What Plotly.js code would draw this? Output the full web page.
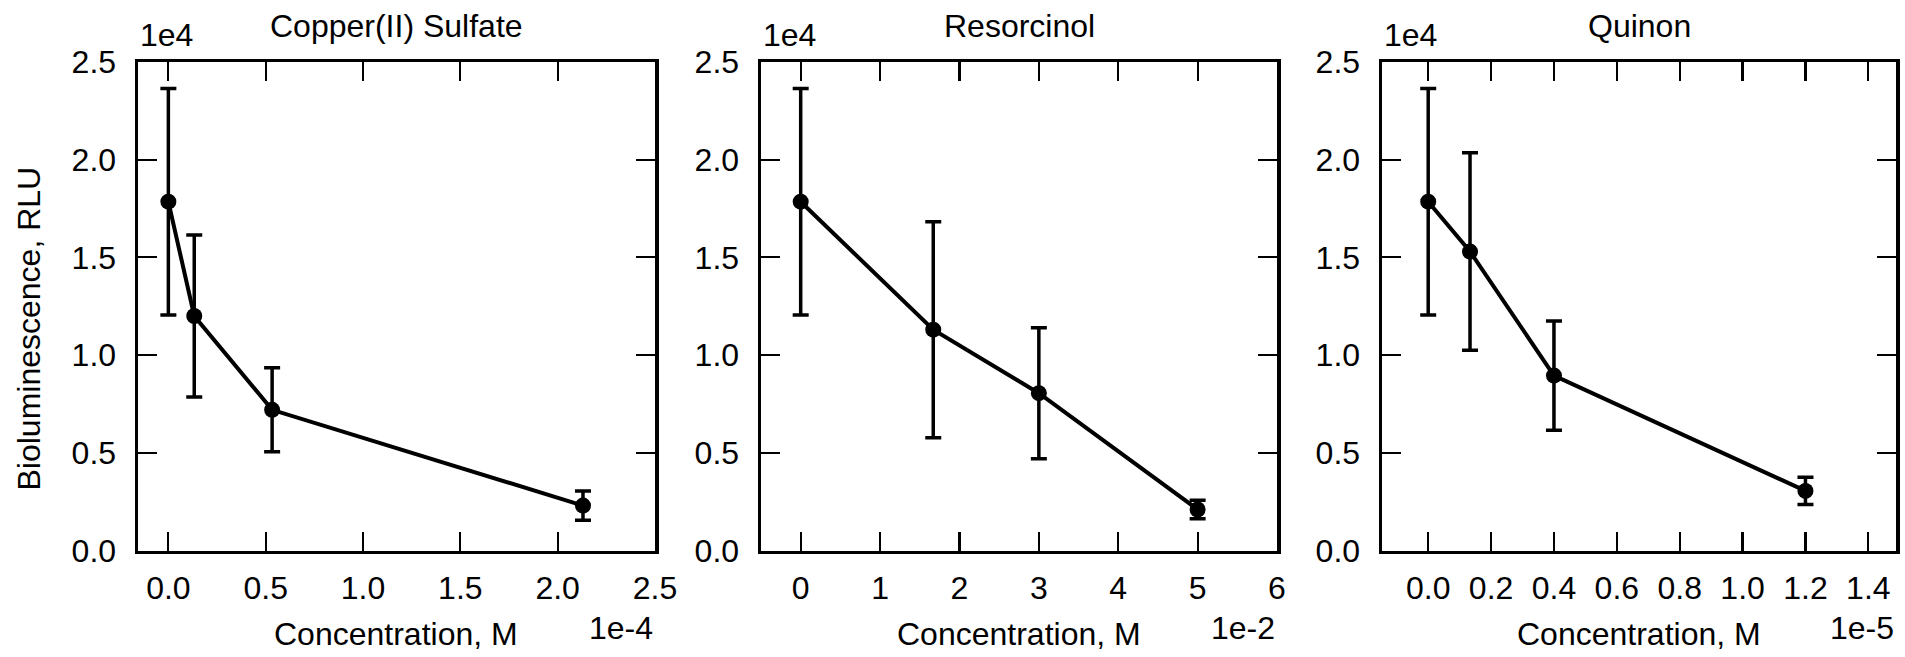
<!DOCTYPE html>
<html>
<head>
<meta charset="utf-8">
<script src="https://cdn.plot.ly/plotly-3.0.1.min.js"></script>
<style>html,body{margin:0;padding:0;background:#fff;}#chart{width:1905px;height:657px;}</style>
</head>
<body>
<div id="chart"></div>
<script>
// ---- data ----
const panelTitles = ["Copper(II) Sulfate", "Resorcinol", "Quinon"];

const copperX = [0, 1.33e-5, 5.33e-5, 2.13e-4];
const copperY = [17850, 12000, 7200, 2300];
const copperErr = [5800, 4150, 2150, 750];

const resorcinolX = [0, 0.0167, 0.03, 0.05];
const resorcinolY = [17850, 11300, 8050, 2100];
const resorcinolErr = [5800, 5530, 3350, 470];

const quinonX = [0, 1.33e-6, 4e-6, 1.2e-5];
const quinonY = [17850, 15300, 8950, 3050];
const quinonErr = [5800, 5050, 2800, 700];

const yTickVals = [0, 5000, 10000, 15000, 20000, 25000];
const yTickText = ["0.0", "0.5", "1.0", "1.5", "2.0", "2.5"];
const x1TickVals = [0, 0.5e-4, 1e-4, 1.5e-4, 2e-4, 2.5e-4];
const x1TickText = ["0.0", "0.5", "1.0", "1.5", "2.0", "2.5"];
const x2TickVals = [0, 0.01, 0.02, 0.03, 0.04, 0.05, 0.06];
const x2TickText = ["0", "1", "2", "3", "4", "5", "6"];
const x3TickVals = [0, 0.2e-5, 0.4e-5, 0.6e-5, 0.8e-5, 1.0e-5, 1.2e-5, 1.4e-5];
const x3TickText = ["0.0", "0.2", "0.4", "0.6", "0.8", "1.0", "1.2", "1.4"];
const xOffsets = ["1e-4", "1e-2", "1e-5"];
const yOffset = "1e4";
const xTitle = "Concentration, M";
const yTitle = "Bioluminescence, RLU";

// ---- layout ----
const W = 1905, H = 657;
const FONT = {family: "'Liberation Sans', Arial, Helvetica, sans-serif", size: 32, color: "#000"};
const panelPx = [[138, 655], [761, 1277], [1382, 1896]];
const yDom = [1 - 550.5 / H, 1 - 62 / H];
const xRanges = [[-0.156e-4, 2.5e-4], [-0.005, 0.06], [-0.147e-5, 1.488e-5]];
const xTicks = [[x1TickVals, x1TickText], [x2TickVals, x2TickText], [x3TickVals, x3TickText]];

const series = [
  [copperX, copperY, copperErr],
  [resorcinolX, resorcinolY, resorcinolErr],
  [quinonX, quinonY, quinonErr]
];

const axisCommon = {
  showline: true, linecolor: "#000", linewidth: 3.5,
  mirror: "ticks", ticks: "inside", ticklen: 19, tickwidth: 2.2, tickcolor: "#000",
  showgrid: false, zeroline: false, fixedrange: true,
  tickfont: FONT
};

const traces = [];
const layout = {
  width: W, height: H,
  margin: {l: 0, r: 0, t: 0, b: 0},
  paper_bgcolor: "#fff", plot_bgcolor: "#fff",
  showlegend: false,
  font: FONT,
  annotations: []
};

series.forEach((s, i) => {
  const n = i === 0 ? "" : String(i + 1);
  traces.push({
    type: "scatter", mode: "lines+markers",
    x: s[0], y: s[1],
    xaxis: "x" + n, yaxis: "y" + n,
    line: {color: "#000", width: 4},
    marker: {color: "#000", size: 16},
    error_y: {type: "data", array: s[2], visible: true, color: "#000", thickness: 3.5, width: 8},
    hoverinfo: "x+y"
  });
  layout["xaxis" + n] = Object.assign({}, axisCommon, {
    domain: [panelPx[i][0] / W, panelPx[i][1] / W],
    range: xRanges[i], anchor: "y" + n, ticklabelstandoff: 7,
    tickmode: "array", tickvals: xTicks[i][0], ticktext: xTicks[i][1]
  });
  layout["yaxis" + n] = Object.assign({}, axisCommon, {
    domain: yDom, range: [0, 25000], anchor: "x" + n, ticklabelstandoff: 12,
    tickmode: "array", tickvals: yTickVals, ticktext: yTickText
  });
  const xd = "x" + n + " domain";
  layout.annotations.push(
    {text: panelTitles[i], xref: xd, x: 0.5, xanchor: "center", yref: "paper", y: 1 - 26 / H, yanchor: "middle", showarrow: false, font: FONT},
    {text: yOffset, xref: xd, x: 0, xanchor: "left", yref: "paper", y: 1 - 35 / H, yanchor: "middle", showarrow: false, font: FONT},
    {text: xOffsets[i], xref: xd, x: 1, xanchor: "right", yref: "paper", y: 1 - 628 / H, yanchor: "middle", showarrow: false, font: FONT},
    {text: xTitle, xref: xd, x: 0.5, xanchor: "center", yref: "paper", y: 1 - 634 / H, yanchor: "middle", showarrow: false, font: FONT}
  );
});
layout.annotations.push({
  text: yTitle, xref: "paper", x: 28 / W, xanchor: "center", yref: "paper", y: 0.5, yanchor: "middle",
  textangle: -90, showarrow: false, font: FONT
});

Plotly.newPlot("chart", traces, layout, {displayModeBar: false, staticPlot: true});
</script>
</body>
</html>
